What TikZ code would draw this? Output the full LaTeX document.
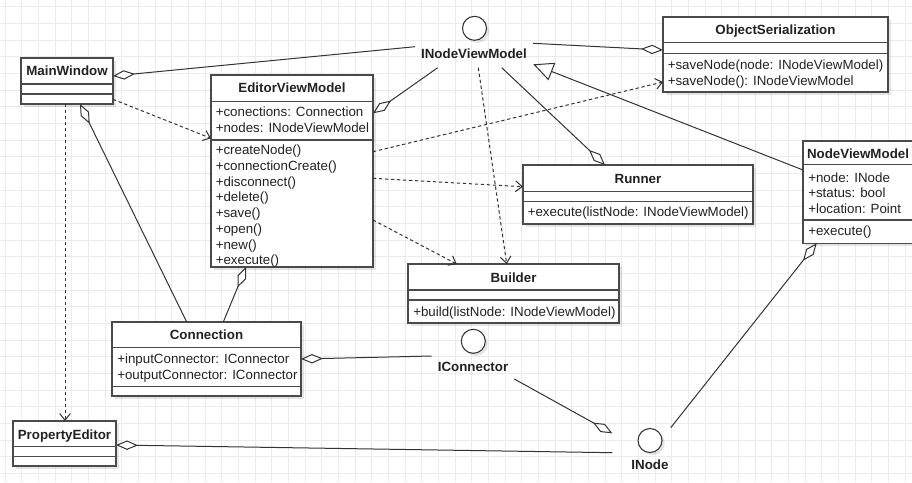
\documentclass[tikz,border=0pt]{standalone}
\usepackage{fontspec}
\setmainfont{Liberation Sans}
\usetikzlibrary{arrows.meta,calc,fit,shadows}
\definecolor{gridc}{HTML}{EBEBEB}
\definecolor{linec}{HTML}{333333}
\definecolor{boxc}{HTML}{4A4A4A}
\definecolor{txtc}{HTML}{222222}
\newcommand{\umlbox}[7]{%
  \node[cls, fit={(#2,#3) (#4,#5)}] (#1) {};
  \draw[divc] (#2,#6) -- (#4,#6);
  \draw[divc] (#2,#7) -- (#4,#7);
}
\tikzset{
  cls/.style={draw=boxc, fill=white, inner sep=0pt, outer sep=0pt, line width=0.8pt,
    drop shadow={shadow xshift=2.2pt, shadow yshift=-2.2pt, fill=black, opacity=0.10}},
  divc/.style={draw=boxc, line width=0.8pt},
  ttl/.style={font=\fontsize{10}{12}\selectfont\bfseries, text=txtc, inner sep=0pt, text height=7.2pt, text depth=0pt},
  mem/.style={font=\fontsize{10}{12}\selectfont, text=txtc, inner sep=0pt, anchor=west, text height=7.2pt, text depth=0pt},
  iface/.style={circle, draw=linec, fill=white, line width=0.8pt, minimum size=18pt, inner sep=0pt,
    drop shadow={shadow xshift=2pt, shadow yshift=-2pt, fill=black, opacity=0.10}},
  conn/.style={draw=linec, line width=0.75pt},
  agg/.style={conn, -{Diamond[fill=white, length=16.5pt, width=7pt]}},
  dep/.style={conn, dash pattern=on 2.5pt off 2pt, -{Straight Barb[length=5pt, width=8pt]}},
  gen/.style={conn, -{Triangle[fill=white, length=15pt, width=14pt]}}
}
\begin{document}
\begin{tikzpicture}[x=0.75pt,y=-0.75pt]
\useasboundingbox (0,0) rectangle (912,482);
\clip (0,0) rectangle (912,482);
\fill[white] (0,0) rectangle (912,482);
% grid
\foreach \i in {0,...,54} \draw[gridc, line width=0.6pt] ({5+\i*16.667},0) -- ({5+\i*16.667},482);
\foreach \j in {0,...,28} \draw[gridc, line width=0.6pt] (0,{6.667+\j*16.667}) -- (912,{6.667+\j*16.667});

% class boxes
\umlbox{mw}{21}{58}{113}{104}{84}{94}
\node[ttl] (mwT) at (67,71) {MainWindow};

\umlbox{evm}{211}{75}{373}{267}{101.7}{140}
\node[ttl] (evmT) at (292,88) {EditorViewModel};
\node[mem] (evmA1) at (215.5,111.7) {+conections: Connection};
\node[mem] (evmA2) at (215.5,127.3) {+nodes: INodeViewModel};
\node[mem] (evmM1) at (215.5,150) {+createNode()};
\node[mem] (evmM2) at (215.5,165.7) {+connectionCreate()};
\node[mem] (evmM3) at (215.5,181.4) {+disconnect()};
\node[mem] (evmM4) at (215.5,197.1) {+delete()};
\node[mem] (evmM5) at (215.5,212.8) {+save()};
\node[mem] (evmM6) at (215.5,228.5) {+open()};
\node[mem] (evmM7) at (215.5,244.2) {+new()};
\node[mem] (evmM8) at (215.5,259.9) {+execute()};

\umlbox{os}{663}{17}{888}{92}{42.7}{53.3}
\node[ttl] (osT) at (775.5,30) {ObjectSerialization};
\node[mem] (osM1) at (667.5,65) {+saveNode(node: INodeViewModel)};
\node[mem] (osM2) at (667.5,80.5) {+saveNode(): INodeViewModel};

\umlbox{nvm}{803}{141}{914}{243.3}{164.3}{220}
\node[ttl] (nvmT) at (858,153.3) {NodeViewModel};
\node[mem] (nvmA1) at (808,177.7) {+node: INode};
\node[mem] (nvmA2) at (808,193) {+status: bool};
\node[mem] (nvmA3) at (808,208.5) {+location: Point};
\node[mem] (nvmM1) at (808,231) {+execute()};

\umlbox{run}{523}{165}{753}{224}{191.7}{201.7}
\node[ttl] (runT) at (638,178.3) {Runner};
\node[mem] (runM1) at (527.5,212) {+execute(listNode: INodeViewModel)};

\umlbox{bld}{408}{264}{619}{323}{290}{300}
\node[ttl] (bldT) at (513.5,277.3) {Builder};
\node[mem] (bldM1) at (413,312) {+build(listNode: INodeViewModel)};

\umlbox{con}{112}{322}{301}{396}{347.7}{386.7}
\node[ttl] (conT) at (206.5,335) {Connection};
\node[mem] (conA1) at (117,359) {+inputConnector: IConnector};
\node[mem] (conA2) at (117,374.3) {+outputConnector: IConnector};

\umlbox{pe}{13}{421}{116}{466}{446.7}{456.7}
\node[ttl] (peT) at (64.5,434.3) {PropertyEditor};

% interfaces
\node[iface] (inv) at (474.5,28.3) {};
\node[ttl] (invL) at (474,53.3) {INodeViewModel};
\node[iface] (ic) at (473.3,341.3) {};
\node[ttl] (icL) at (473,366.7) {IConnector};
\node[iface] (in) at (650,440.5) {};
\node[ttl] (inL) at (650,465) {INode};

% connector ends near interfaces
\coordinate (invW) at (415,46.7);
\coordinate (invE) at (533,43.3);
\coordinate (invSW) at (437.7,67.7);
\coordinate (invS) at (478.3,67.7);
\coordinate (invSE) at (501.7,67.7);
\coordinate (invTip) at (533.3,64.3);
\coordinate (icW) at (431.7,356);
\coordinate (icSE) at (514.3,379);
\coordinate (inNW) at (612.3,433.3);
\coordinate (inW) at (612.3,452.7);
\coordinate (inNE) at (670.7,427.7);

% connectors
\draw[agg] (invW) -- ($(mw.north east)+(0,18)$);
\draw[agg] (invE) -- ($(os.north west)+(0,33)$);
\draw[agg] (invSW) -- ($(evm.north east)+(0,38.3)$);
\draw[dep] (invS) -- ($(bld.north west)+(98.7,0)$);
\draw[agg] (invSE) -- ($(run.north west)+(82,0)$);
\draw[gen] ($(nvm.north west)+(0,29)$) -- (invTip);
\draw[dep] ($(mw.south east)+(0,-4.7)$) -- ($(evm.north west)+(0,63.3)$);
\draw[dep] ($(mw.south west)+(44,0)$) -- ($(pe.north west)+(52,0)$);
\draw[agg] ($(con.north west)+(74.7,0)$) -- ($(mw.south west)+(59,0)$);
\draw[agg] ($(con.north west)+(111.3,0)$) -- ($(evm.south west)+(35,0)$);
\draw[dep] ($(evm.north east)+(0,76.7)$) -- ($(os.south west)+(0,-10)$);
\draw[dep] ($(evm.north east)+(0,103.3)$) -- ($(run.north west)+(0,21.7)$);
\draw[dep] ($(evm.north east)+(0,145)$) -- ($(bld.north west)+(48.7,0)$);
\draw[agg] (icW) -- ($(con.north east)+(0,37)$);
\draw[agg] (icSE) -- (inNW);
\draw[agg] (inW) -- ($(pe.north east)+(0,24)$);
\draw[agg] (inNE) -- ($(nvm.south west)+(13.7,0)$);
\end{tikzpicture}
\end{document}
